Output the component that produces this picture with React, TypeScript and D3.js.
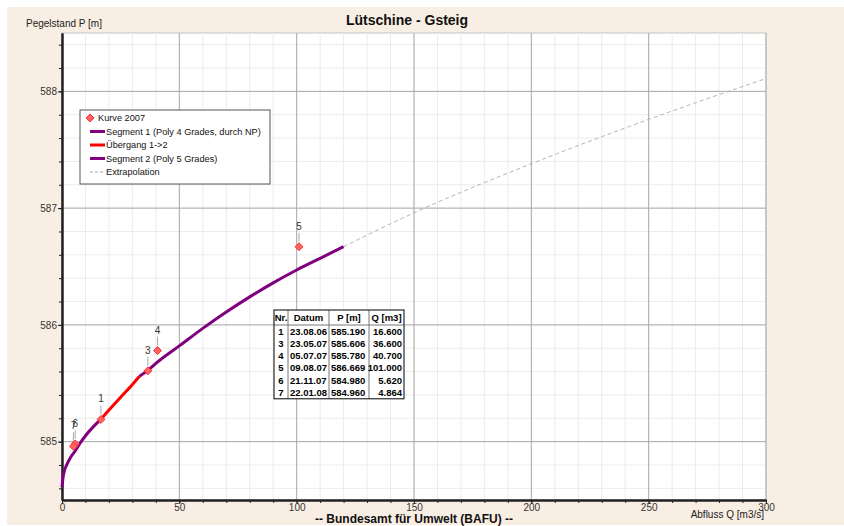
import React, { useRef, useEffect } from 'react';
import * as d3 from 'd3';

// chart texts
const chartTitle = 'Lütschine - Gsteig';
const yTitle = 'Pegelstand P [m]';
const xTitle = 'Abfluss Q [m3/s]';
const footer = '-- Bundesamt für Umwelt (BAFU) --';

// rating curve pieces (Q in m3/s, P in m)
const seg1Q = [0, 0.5, 1, 2, 3.5, 5.6, 7.5, 10, 13, 16.6];
const seg1P = [584.61, 584.7, 584.75, 584.8, 584.86, 584.92, 584.98, 585.05, 585.12, 585.19];
const transQ = [16.6, 20, 25, 30, 33];
const transP = [585.19, 585.27, 585.38, 585.49, 585.56];
const seg2Q = [33, 36.6, 40, 50, 60, 70, 80, 90, 100, 110, 120];
const seg2P = [585.56, 585.61, 585.67, 585.82, 585.97, 586.11, 586.24, 586.36, 586.47, 586.57, 586.67];
const extraQ = [120, 150, 200, 250, 300];
const extraP = [586.67, 586.96, 587.38, 587.76, 588.11];

// measurements 2007 (also shown in the table)
const pointNr = ['1', '3', '4', '5', '6', '7'];
const pointDatum = ['23.08.06', '23.05.07', '05.07.07', '09.08.07', '21.11.07', '22.01.08'];
const pointP = [585.19, 585.606, 585.78, 586.669, 584.98, 584.96];
const pointQ = [16.6, 36.6, 40.7, 101.0, 5.62, 4.864];
const tableHeader = ['Nr.', 'Datum', 'P [m]', 'Q [m3]'];

const legendLabels = [
  'Kurve 2007',
  'Segment 1 (Poly 4 Grades, durch NP)',
  'Übergang 1->2',
  'Segment 2 (Poly 5 Grades)',
  'Extrapolation',
];

const FONT = 'Liberation Sans, Arial, sans-serif';

const App = () => {
  const ref = useRef<SVGSVGElement>(null);

  useEffect(() => {
    const width = 844;
    const height = 526;
    const svg = d3.select(ref.current);
    svg.selectAll('*').remove();
    svg.attr('width', width).attr('height', height).style('font-family', FONT);

    const x = d3.scaleLinear().domain([0, 300]).range([62, 766]);
    const y = d3.scaleLinear().domain([584.5, 588.5]).range([500, 33]);

    // background
    svg.append('rect').attr('width', width).attr('height', height).attr('fill', '#fff');
    svg.append('rect').attr('x', 7).attr('y', 7).attr('width', width - 7).attr('height', height - 8).attr('fill', '#f9eee3');
    svg.append('rect')
      .attr('x', x(0)).attr('y', y(588.5))
      .attr('width', x(300) - x(0)).attr('height', y(584.5) - y(588.5))
      .attr('fill', '#fff').attr('stroke', '#c4c4c4');

    // grid
    const grid = svg.append('g');
    grid.selectAll('.mx').data(x.ticks(30)).enter().append('line')
      .attr('x1', d => x(d)).attr('x2', d => x(d)).attr('y1', y(588.5)).attr('y2', y(584.5))
      .attr('stroke', '#ececec');
    grid.selectAll('.my').data(y.ticks(20)).enter().append('line')
      .attr('y1', d => y(d)).attr('y2', d => y(d)).attr('x1', x(0)).attr('x2', x(300))
      .attr('stroke', '#ececec');
    grid.selectAll('.gx').data(x.ticks(6)).enter().append('line')
      .attr('x1', d => x(d)).attr('x2', d => x(d)).attr('y1', y(588.5)).attr('y2', y(584.5))
      .attr('stroke', '#aaa');
    grid.selectAll('.gy').data(y.ticks(4)).enter().append('line')
      .attr('y1', d => y(d)).attr('y2', d => y(d)).attr('x1', x(0)).attr('x2', x(300))
      .attr('stroke', '#aaa');

    // axes
    const styleAxis = (g: any) => {
      g.select('.domain').attr('stroke', '#222').attr('stroke-width', 2);
      g.selectAll('.tick line').attr('stroke', '#222');
      g.selectAll('.tick text').attr('fill', '#333').style('font-size', '10px').style('font-family', FONT);
    };
    svg.append('g').attr('transform', `translate(0,${y(584.5)})`)
      .call(d3.axisBottom(x).tickValues(x.ticks(30)).tickSize(3).tickSizeOuter(0).tickFormat(() => ''))
      .call(styleAxis);
    svg.append('g').attr('transform', `translate(0,${y(584.5)})`)
      .call(d3.axisBottom(x).tickValues(x.ticks(6)).tickSize(4).tickSizeOuter(0).tickPadding(0))
      .call(styleAxis);
    svg.append('g').attr('transform', `translate(${x(0)},0)`)
      .call(d3.axisLeft(y).tickValues(y.ticks(20)).tickSize(3).tickSizeOuter(0).tickFormat(() => ''))
      .call(styleAxis);
    svg.append('g').attr('transform', `translate(${x(0)},0)`)
      .call(d3.axisLeft(y).tickValues(y.ticks(4)).tickSize(4).tickSizeOuter(0).tickPadding(1).tickFormat(d3.format('d')))
      .call(styleAxis);

    // lines
    const line = d3.line<[number, number]>()
      .x(d => x(d[0])).y(d => y(d[1])).curve(d3.curveMonotoneX);
    const pairs = (q: number[], p: number[]) => q.map((v, i) => [v, p[i]] as [number, number]);

    svg.append('path').attr('d', line(pairs(extraQ, extraP)))
      .attr('fill', 'none').attr('stroke', '#b4b4b4').attr('stroke-dasharray', '4,3');
    svg.append('path').attr('d', line(pairs(seg2Q, seg2P)))
      .attr('fill', 'none').attr('stroke', '#800080').attr('stroke-width', 3);
    svg.append('path').attr('d', line(pairs(transQ, transP)))
      .attr('fill', 'none').attr('stroke', '#ff0000').attr('stroke-width', 3);
    svg.append('path').attr('d', line(pairs(seg1Q, seg1P)))
      .attr('fill', 'none').attr('stroke', '#800080').attr('stroke-width', 3);

    // measurement points with labels
    const diamond = d3.symbol().type(d3.symbolDiamond2).size(40);
    const pts = svg.append('g').selectAll('g').data(pointNr).enter().append('g')
      .attr('transform', (d, i) => `translate(${x(pointQ[i])},${y(pointP[i])})`);
    pts.append('line').attr('x1', 0).attr('x2', 0).attr('y1', -5).attr('y2', -14)
      .attr('stroke', '#aaa');
    pts.append('path').attr('d', diamond).attr('fill', '#ff6464').attr('stroke', '#ff3030');
    pts.append('text').attr('y', -17).attr('text-anchor', 'middle')
      .style('font-size', '10px').attr('fill', '#333').text(d => d);

    // legend
    const lg = svg.append('g').attr('transform', 'translate(80,110)').style('font-size', '9.2px');
    lg.append('rect').attr('width', 190).attr('height', 74).attr('fill', '#fff').attr('stroke', '#555');
    const legendStyles = [
      { color: '#ff6464', width: 0, dash: '' },
      { color: '#800080', width: 3, dash: '' },
      { color: '#ff0000', width: 3, dash: '' },
      { color: '#800080', width: 3, dash: '' },
      { color: '#aaa', width: 1, dash: '3,2' },
    ];
    legendLabels.forEach((label, i) => {
      const cy = 8 + i * 13.5;
      if (i === 0) {
        lg.append('path').attr('d', diamond).attr('transform', `translate(10,${cy})`)
          .attr('fill', '#ff6464').attr('stroke', '#ff3030');
        lg.append('text').attr('x', 18).attr('y', cy + 3.3).attr('fill', '#111').text(label);
      } else {
        const s = legendStyles[i];
        lg.append('line').attr('x1', 10).attr('x2', 25).attr('y1', cy).attr('y2', cy)
          .attr('stroke', s.color).attr('stroke-width', s.width).attr('stroke-dasharray', s.dash);
        lg.append('text').attr('x', 26).attr('y', cy + 3.3).attr('fill', '#111').text(label);
      }
    });

    // data table
    const colX = [274, 288, 329, 369, 404];
    const top = 310;
    const headH = 15;
    const rowH = 12.3;
    const bottom = top + headH + rowH * pointNr.length;
    const tb = svg.append('g').style('font-size', '9.5px').style('font-weight', 'bold').attr('fill', '#000');
    tb.append('rect').attr('x', colX[0]).attr('y', top).attr('width', colX[4] - colX[0]).attr('height', bottom - top)
      .attr('fill', '#fff');
    colX.slice(1, 4).forEach(cx => {
      tb.append('line').attr('x1', cx).attr('x2', cx).attr('y1', top).attr('y2', bottom).attr('stroke', '#777');
    });
    tb.append('line').attr('x1', colX[0]).attr('x2', colX[4]).attr('y1', top + headH).attr('y2', top + headH).attr('stroke', '#777');
    tb.append('rect').attr('x', colX[0]).attr('y', top).attr('width', colX[4] - colX[0]).attr('height', bottom - top)
      .attr('fill', 'none').attr('stroke', '#000');
    tableHeader.forEach((h, i) => {
      tb.append('text').attr('x', (colX[i] + colX[i + 1]) / 2).attr('y', top + 11)
        .attr('text-anchor', 'middle').text(h);
    });
    const f3 = d3.format('.3f');
    pointNr.forEach((nr, r) => {
      const ty = top + headH + rowH * r + 9.5;
      tb.append('text').attr('x', (colX[0] + colX[1]) / 2).attr('y', ty).attr('text-anchor', 'middle').text(nr);
      tb.append('text').attr('x', colX[1] + 2).attr('y', ty).text(pointDatum[r]);
      tb.append('text').attr('x', colX[2] + 2).attr('y', ty).text(f3(pointP[r]));
      tb.append('text').attr('x', colX[4] - 2).attr('y', ty).attr('text-anchor', 'end').text(f3(pointQ[r]));
    });

    // titles
    svg.append('text').attr('x', 407).attr('y', 25).attr('text-anchor', 'middle')
      .style('font-size', '14px').style('font-weight', 'bold').attr('fill', '#111').text(chartTitle);
    svg.append('text').attr('x', 26).attr('y', 27).style('font-size', '10px').attr('fill', '#222').text(yTitle);
    svg.append('text').attr('x', 764).attr('y', 518).attr('text-anchor', 'end')
      .style('font-size', '10px').attr('fill', '#222').text(xTitle);
    svg.append('text').attr('x', 414).attr('y', 523).attr('text-anchor', 'middle')
      .style('font-size', '12px').style('font-weight', 'bold').attr('fill', '#111').text(footer);
  }, []);

  return <svg ref={ref} style={{ position: 'absolute', left: 0, top: 0 }}></svg>;
};

export default App;
